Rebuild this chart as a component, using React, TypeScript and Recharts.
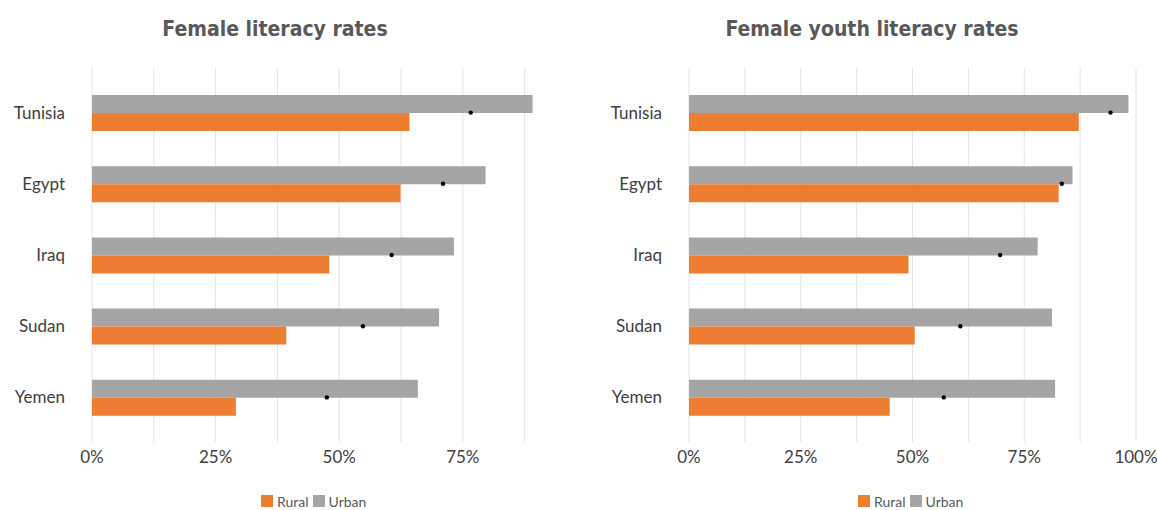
import React from "react";
import {
  Bar,
  CartesianGrid,
  ComposedChart,
  Legend,
  Line,
  XAxis,
  YAxis,
} from "recharts";

const countries = ["Tunisia", "Egypt", "Iraq", "Sudan", "Yemen"];

// Female literacy rates
const adultRural = [0.642, 0.624, 0.48, 0.393, 0.291];
const adultUrban = [0.891, 0.796, 0.732, 0.702, 0.659];
const adultTotal = [0.766, 0.71, 0.606, 0.548, 0.475];

// Female youth literacy rates
const youthRural = [0.872, 0.827, 0.491, 0.505, 0.449];
const youthUrban = [0.983, 0.858, 0.78, 0.812, 0.819];
const youthTotal = [0.943, 0.834, 0.696, 0.607, 0.57];

const adultTicks = [0, 0.125, 0.25, 0.375, 0.5, 0.625, 0.75, 0.875];
const youthTicks = [0, 0.125, 0.25, 0.375, 0.5, 0.625, 0.75, 0.875, 1];

const legendItems = [
  { label: "Rural", color: "#ED7D31" },
  { label: "Urban", color: "#A5A5A5" },
];

const ORANGE = "#ED7D31";
const GRAY = "#A5A5A5";
const LABEL_FONT = "Lato, 'Open Sans', sans-serif";
const TITLE_FONT = "'Liberation Sans Narrow', 'DejaVu Sans Condensed', Roboto, sans-serif";

const build = (rural: number[], urban: number[], total: number[]) =>
  countries.map((country, i) => ({
    country,
    rural: rural[i],
    urban: urban[i],
    total: total[i],
  }));

const pct = (v: number) =>
  Math.round(v * 8) % 2 === 0 ? `${Math.round(v * 100)}%` : "";

function LegendRow({ padLeft }: { padLeft: number }) {
  return (
    <div style={{ height: 38, paddingTop: 23, boxSizing: "border-box", paddingLeft: padLeft }}>
      <div style={{ display: "flex", alignItems: "center", height: 12 }}>
        {legendItems.map((it) => (
          <div key={it.label} style={{ display: "flex", alignItems: "center", marginRight: 4 }}>
            <span style={{ width: 12, height: 12, background: it.color, display: "inline-block", marginRight: 4 }} />
            <span style={{ fontFamily: LABEL_FONT, fontSize: 14, color: "#595959" }}>{it.label}</span>
          </div>
        ))}
      </div>
    </div>
  );
}

function LiteracyChart(props: {
  data: any[];
  width: number;
  yWidth: number;
  right: number;
  domainMax: number;
  ticks: number[];
  legendLeft: number;
}) {
  const { data, width, yWidth, right, domainMax, ticks, legendLeft } = props;
  return (
    <ComposedChart
      layout="vertical"
      width={width}
      height={510}
      data={data}
      margin={{ top: 68, right, bottom: 0, left: 0 }}
      barGap={0}
      barSize={18}
    >
      <CartesianGrid horizontal={false} stroke="#E3E3E3" syncWithTicks />
      <XAxis
        type="number"
        domain={[0, domainMax]}
        ticks={ticks}
        tickFormatter={pct}
        axisLine={false}
        tickLine={false}
        tickSize={0}
        tickMargin={9}
        height={30}
        interval={0}
        tick={{ fill: "#404040", fontSize: 17, fontFamily: LABEL_FONT }}
      />
      <YAxis
        type="category"
        dataKey="country"
        width={yWidth}
        axisLine={false}
        tickLine={false}
        tickSize={0}
        tickMargin={27}
        padding={{ top: 9, bottom: 9 }}
        tick={{ fill: "#404040", fontSize: 17, fontFamily: LABEL_FONT }}
      />
      <Bar dataKey="urban" name="Urban" fill={GRAY} isAnimationActive={false} />
      <Bar dataKey="rural" name="Rural" fill={ORANGE} isAnimationActive={false} />
      <Line
        dataKey="total"
        stroke="none"
        legendType="none"
        dot={{ r: 2.2, fill: "#000", stroke: "#000", strokeWidth: 0 }}
        activeDot={false}
        isAnimationActive={false}
      />
      <Legend
        verticalAlign="bottom"
        wrapperStyle={{ left: 0, width }}
        content={() => <LegendRow padLeft={legendLeft} />}
      />
    </ComposedChart>
  );
}

const titleStyle: React.CSSProperties = {
  position: "absolute",
  top: 14,
  width: 500,
  textAlign: "center",
  fontFamily: TITLE_FONT,
  fontWeight: 700,
  fontSize: 21,
  lineHeight: "30px",
  color: "#595959",
};

export default function App() {
  return (
    <div style={{ position: "absolute", left: 0, top: 0, width: 1157, height: 510, background: "#fff" }}>
      <div style={{ ...titleStyle, left: 275 - 250 }}>Female literacy rates</div>
      <div style={{ ...titleStyle, left: 872 - 250 }}>Female youth literacy rates</div>
      <div style={{ position: "absolute", left: 0, top: 0 }}>
        <LiteracyChart
          data={build(adultRural, adultUrban, adultTotal)}
          width={580}
          yWidth={92}
          right={43}
          domainMax={0.9}
          ticks={adultTicks}
          legendLeft={261}
        />
      </div>
      <div style={{ position: "absolute", left: 580, top: 0 }}>
        <LiteracyChart
          data={build(youthRural, youthUrban, youthTotal)}
          width={577}
          yWidth={109}
          right={21}
          domainMax={1}
          ticks={youthTicks}
          legendLeft={278}
        />
      </div>
    </div>
  );
}
